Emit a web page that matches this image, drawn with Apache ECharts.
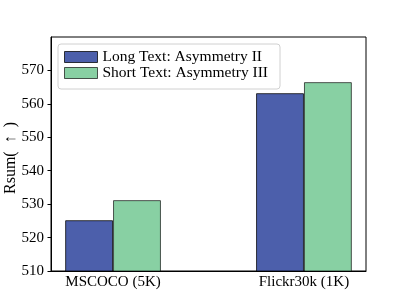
<!DOCTYPE html>
<html><head><meta charset="utf-8">
<script src="https://cdn.jsdelivr.net/npm/echarts@6/dist/echarts.min.js"></script>
<style>html,body{margin:0;padding:0;background:#fff}#c{width:407px;height:305px}</style>
</head><body><div id="c"></div>
<script>
var categories = ['MSCOCO (5K)', 'Flickr30k (1K)'];
var seriesNames = ['Long Text: Asymmetry II', 'Short Text: Asymmetry III'];
var longText = [525.2, 563.2];
var shortText = [531.2, 566.5];
var yTicks = [510, 520, 530, 540, 550, 560, 570];

var font = 'Liberation Serif';
var chart = echarts.init(document.getElementById('c'), null, {renderer: 'canvas'});
function pairs(arr){ return arr.map(function(v,i){ return [i, v]; }); }
chart.setOption({
  animation: false,
  grid: {left: 51, right: 41, top: 37, bottom: 34, containLabel: false, outerBoundsMode: 'none',
    show: true, borderColor: '#000', borderWidth: 1, backgroundColor: 'transparent'},
  legend: {
    left: 58, top: 44, orient: 'vertical', icon: 'rect',
    itemWidth: 33, itemHeight: 11, itemGap: 0, itemTextGap: 12,
    padding: [5, 12, 8, 6],
    backgroundColor: '#fff', borderColor: '#d0d0d0', borderWidth: 1, borderRadius: 3,
    itemStyle: {borderWidth: 1},
    textStyle: {fontFamily: font, fontSize: 15.5, color: '#000', lineHeight: 15.5},
    data: seriesNames
  },
  xAxis: {
    type: 'value', min: -0.325, max: 1.325,
    axisLine: {show: true, onZero: false, lineStyle: {color: '#000'}},
    axisTick: {show: false},
    splitLine: {show: false},
    axisLabel: {customValues: [0, 1], formatter: function(v){ return categories[Math.round(v)] || ''; },
      fontFamily: font, fontSize: 15, color: '#000', margin: 4}
  },
  yAxis: {
    type: 'value', min: 510, max: 580, interval: 10,
    name: 'Rsum(\u2002↑\u2002)', nameLocation: 'middle', nameGap: 32, nameMoveOverlap: false,
    nameTextStyle: {fontFamily: font, fontSize: 16, color: '#000', padding: [0, 8, 0, 0]},
    axisLine: {show: true, onZero: false, lineStyle: {color: '#000'}},
    axisTick: {show: true, length: 3.5, customValues: yTicks, lineStyle: {color: '#000'}},
    splitLine: {show: false},
    axisLabel: {fontFamily: font, fontSize: 15, color: '#000', margin: 7, customValues: yTicks}
  },
  series: [
    {name: seriesNames[0], type: 'bar', data: pairs(longText), barWidth: 47.9, barGap: '0%',
     itemStyle: {color: '#4c5fab', borderColor: 'rgba(0,0,0,0.75)', borderWidth: 1}},
    {name: seriesNames[1], type: 'bar', data: pairs(shortText), barWidth: 47.9, barGap: '0%',
     itemStyle: {color: '#88d0a3', borderColor: 'rgba(0,0,0,0.65)', borderWidth: 1}}
  ]
});
</script></body></html>
